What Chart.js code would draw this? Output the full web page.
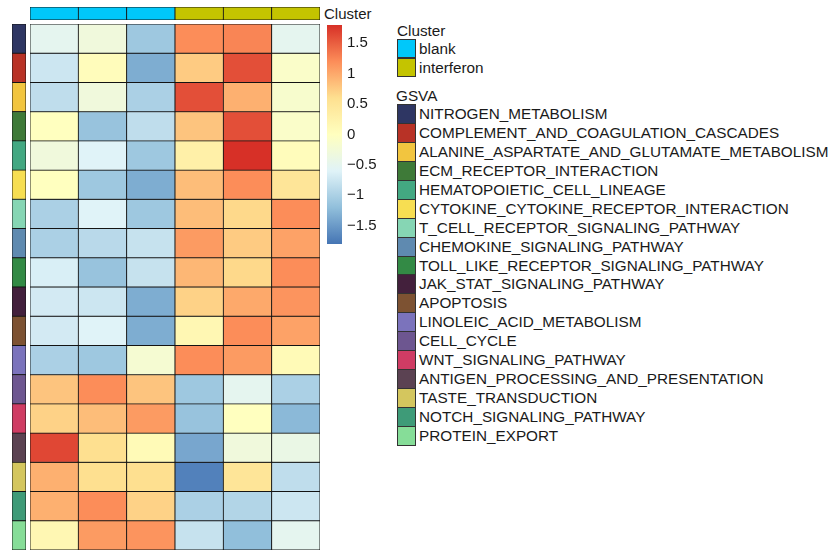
<!DOCTYPE html>
<html>
<head>
<meta charset="utf-8">
<script src="https://cdn.jsdelivr.net/npm/chart.js@4.4.0/dist/chart.umd.min.js"></script>
<style>
body{margin:0;background:#fff;width:831px;height:550px;overflow:hidden;position:relative;font-family:"Liberation Sans",Arial,sans-serif;color:#1a1a1a}
canvas{position:absolute}
.txt{position:absolute;font-size:15.3px;line-height:18px;white-space:nowrap}
.sw{position:absolute;width:17px;border:1px solid #333;box-sizing:content-box}
</style>
</head>
<body>
<canvas id="colAnno" width="290" height="13" style="left:30px;top:7px"></canvas>
<canvas id="rowAnno" width="14" height="526" style="left:12px;top:24px"></canvas>
<canvas id="heat" width="290" height="526" style="left:30px;top:24px"></canvas>
<canvas id="scaleBar" width="60" height="219" style="left:327px;top:25px"></canvas>
<div class="txt" style="left:324px;top:5px;font-size:15px">Cluster</div>
<div id="legend"></div>

<script>
// samples and their cluster
var samples = ["blank_1", "blank_2", "blank_3", "interferon_1", "interferon_2", "interferon_3"]
var sampleCluster = ["blank", "blank", "blank", "interferon", "interferon", "interferon"]
var clusters = ["blank", "interferon"]
var clusterColors = ["#00c8fa", "#c4c400"]

var pathways = ["NITROGEN_METABOLISM", "COMPLEMENT_AND_COAGULATION_CASCADES", "ALANINE_ASPARTATE_AND_GLUTAMATE_METABOLISM",
    "ECM_RECEPTOR_INTERACTION", "HEMATOPOIETIC_CELL_LINEAGE", "CYTOKINE_CYTOKINE_RECEPTOR_INTERACTION",
    "T_CELL_RECEPTOR_SIGNALING_PATHWAY", "CHEMOKINE_SIGNALING_PATHWAY", "TOLL_LIKE_RECEPTOR_SIGNALING_PATHWAY",
    "JAK_STAT_SIGNALING_PATHWAY", "APOPTOSIS", "LINOLEIC_ACID_METABOLISM", "CELL_CYCLE", "WNT_SIGNALING_PATHWAY",
    "ANTIGEN_PROCESSING_AND_PRESENTATION", "TASTE_TRANSDUCTION", "NOTCH_SIGNALING_PATHWAY", "PROTEIN_EXPORT"]
var pathwayColors = ["#2e3663", "#b83226", "#f2c53f", "#3e7a38", "#43a882", "#f7de52", "#86d6b4", "#5f8ab0", "#338a45",
    "#43203c", "#7d5232", "#7b73bc", "#6d5690", "#cf3c64", "#5b4252", "#d4c65e", "#3e9b78", "#86dd98"]

// GSVA scores, one array per sample (rows in pathway order)
var blank1 = [-0.5, -0.75, -0.85, 0.0, -0.3, 0.0, -1.0, -1.0, -0.65, -0.7, -0.7, -1.0, 0.8, 0.7, 1.65, 0.95, 0.95, 0.15]
var blank2 = [-0.3, 0.05, -0.3, -1.15, -0.6, -1.1, -0.6, -0.9, -1.15, -0.75, -0.6, -1.1, 1.2, 0.85, 0.6, 0.6, 1.2, 1.1]
var blank3 = [-1.1, -1.35, -1.0, -0.85, -1.1, -1.35, -1.1, -0.8, -0.8, -1.35, -1.35, -0.2, 0.8, 1.1, 0.1, 0.6, 0.7, 1.15]
var interferon1 = [1.2, 0.75, 1.6, 0.8, 0.3, 0.85, 0.85, 1.1, 0.9, 0.7, 0.15, 1.2, -1.1, -1.15, -1.4, -1.7, -1.0, -0.8]
var interferon2 = [1.25, 1.6, 0.95, 1.6, 1.8, 1.2, 0.65, 0.75, 0.65, 1.0, 1.2, 1.1, -0.5, 0.0, -0.3, 0.5, -0.95, -1.2]
var interferon3 = [-0.5, -0.1, -0.15, -0.1, 0.05, 0.5, 1.2, 1.05, 1.2, 1.15, 1.05, 0.1, -1.0, -1.25, -0.4, -0.85, -0.75, -0.5]
var columns = [blank1, blank2, blank3, interferon1, interferon2, interferon3]

var colorMin = -1.8
var colorMax = 1.8
var colorTicks = [-1.5, -1, -0.5, 0, 0.5, 1, 1.5]
var palette = ["#4575b4", "#91bfdb", "#e0f3f8", "#ffffbf", "#fee090", "#fc8d59", "#d73027"]

function hexToRgb(h) {
    return [parseInt(h.substr(1, 2), 16), parseInt(h.substr(3, 2), 16), parseInt(h.substr(5, 2), 16)]
}

function valueColor(v) {
    let t = (v - colorMin) / (colorMax - colorMin)
    t = Math.max(0, Math.min(1, t)) * (palette.length - 1)
    let i = Math.min(Math.floor(t), palette.length - 2)
    let f = t - i
    let a = hexToRgb(palette[i]), b = hexToRgb(palette[i + 1])
    let c = a.map((x, k) => Math.round(x + (b[k] - x) * f))
    return "rgb(" + c.join(",") + ")"
}

var noPlugins = {legend: {display: false}, tooltip: {enabled: false}}

// heatmap: one stacked dataset per pathway, one bar per sample
new Chart(document.getElementById("heat"), {
    type: "bar",
    data: {
        labels: samples,
        datasets: pathways.map((p, r) => ({
            label: p,
            data: samples.map(() => 1),
            backgroundColor: columns.map(col => valueColor(col[r])),
            borderColor: "#141414",
            borderWidth: 0.8,
            borderSkipped: false,
            barPercentage: 1,
            categoryPercentage: 1
        }))
    },
    options: {
        responsive: false, animation: false, plugins: noPlugins, layout: {padding: 0},
        scales: {
            x: {display: false, stacked: true},
            y: {display: false, stacked: true, reverse: true, min: 0, max: pathways.length}
        }
    }
});

// row annotation
new Chart(document.getElementById("rowAnno"), {
    type: "bar",
    data: {
        labels: pathways,
        datasets: [{
            data: pathways.map(() => 1),
            backgroundColor: pathwayColors,
            borderColor: "#141414",
            borderWidth: 0.8,
            borderSkipped: false,
            barPercentage: 1,
            categoryPercentage: 1
        }]
    },
    options: {
        indexAxis: "y", responsive: false, animation: false, plugins: noPlugins, layout: {padding: 0},
        scales: {x: {display: false, min: 0, max: 1}, y: {display: false}}
    }
});

// column annotation
new Chart(document.getElementById("colAnno"), {
    type: "bar",
    data: {
        labels: samples,
        datasets: [{
            data: samples.map(() => 1),
            backgroundColor: sampleCluster.map(c => clusterColors[clusters.indexOf(c)]),
            borderColor: "#141414",
            borderWidth: 0.8,
            borderSkipped: false,
            barPercentage: 1,
            categoryPercentage: 1
        }]
    },
    options: {
        responsive: false, animation: false, plugins: noPlugins, layout: {padding: 0},
        scales: {x: {display: false}, y: {display: false, min: 0, max: 1}}
    }
});

// colour key
new Chart(document.getElementById("scaleBar"), {
    type: "bar",
    data: {
        labels: [""],
        datasets: [{
            data: [[colorMin, colorMax]],
            backgroundColor: function (ctx) {
                let area = ctx.chart.chartArea
                if (!area) return palette[3]
                let ys = ctx.chart.scales.y
                let g = ctx.chart.ctx.createLinearGradient(0, ys.getPixelForValue(colorMin), 0, ys.getPixelForValue(colorMax))
                palette.forEach((c, i) => g.addColorStop(i / (palette.length - 1), c))
                return g
            },
            borderWidth: 0,
            barPercentage: 1,
            categoryPercentage: 1
        }]
    },
    options: {
        responsive: false, animation: false, plugins: noPlugins, layout: {padding: 0},
        scales: {
            x: {display: false},
            y: {
                position: "right", min: colorMin, max: colorMax,
                grid: {display: false, drawTicks: false},
                border: {display: false},
                afterBuildTicks: s => { s.ticks = colorTicks.map(v => ({value: v})) },
                afterFit: s => { s.width = 45; s.paddingTop = 0; s.paddingBottom = 0 },
                ticks: {
                    padding: 5, color: "#1a1a1a",
                    font: {family: "'Liberation Sans', Arial, sans-serif", size: 15},
                    callback: v => v < 0 ? "\u2212" + Math.abs(v) : String(v)
                }
            }
        }
    }
});

// legends
let legendDiv = document.getElementById("legend")
function addText(txt, x, y) {
    let d = document.createElement("div")
    d.className = "txt"
    d.style.left = x + "px"
    d.style.top = y + "px"
    d.textContent = txt
    legendDiv.appendChild(d)
}
function addSwatch(color, x, y, h) {
    let d = document.createElement("div")
    d.className = "sw"
    d.style.left = x + "px"
    d.style.top = y + "px"
    d.style.height = h + "px"
    d.style.background = color
    legendDiv.appendChild(d)
}

addText("Cluster", 397, 22)
clusters.forEach((c, i) => {
    addSwatch(clusterColors[i], 397, 39 + i * 19, 17)
    addText(c, 419, 40 + i * 19)
})
addText("GSVA", 396, 87)
let step = 18.94
pathways.forEach((p, i) => {
    addSwatch(pathwayColors[i], 397, 104 + i * step, step - 1)
    addText(p, 419, 105 + i * step)
})
</script>
</body>
</html>
